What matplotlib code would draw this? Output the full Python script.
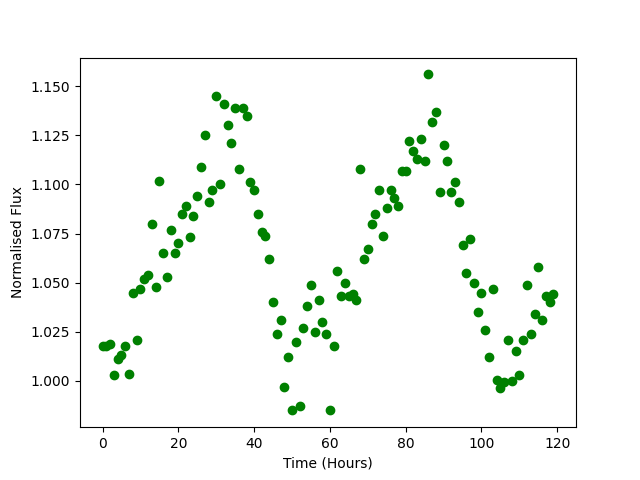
import numpy as np
import matplotlib
matplotlib.use('Agg')
import matplotlib.pyplot as plt

# tempo em horas
tempo = np.arange(0, 120)

# fluxo normalizado
fluxo = [
    1.0178, 1.018, 1.019, 1.003, 1.011, 1.013, 1.018, 1.0035, 1.045, 1.021,
    1.047, 1.052, 1.054, 1.080, 1.048, 1.102, 1.065, 1.053, 1.077, 1.065,
    1.070, 1.085, 1.089, 1.073, 1.084, 1.094, 1.109, 1.125, 1.091, 1.097,
    1.145, 1.100, 1.141, 1.130, 1.121, 1.139, 1.108, 1.139, 1.135, 1.101,
    1.097, 1.085, 1.076, 1.074, 1.062, 1.040, 1.024, 1.031, 0.997, 1.012,
    0.985, 1.020, 0.987, 1.027, 1.038, 1.049, 1.025, 1.041, 1.030, 1.024,
    0.985, 1.018, 1.056, 1.043, 1.050, 1.043, 1.044, 1.041, 1.108, 1.062,
    1.067, 1.080, 1.085, 1.097, 1.074, 1.088, 1.097, 1.093, 1.089, 1.107,
    1.107, 1.122, 1.117, 1.113, 1.123, 1.112, 1.156, 1.132, 1.137, 1.096,
    1.120, 1.112, 1.096, 1.101, 1.091, 1.069, 1.055, 1.072, 1.050, 1.035,
    1.045, 1.026, 1.012, 1.047, 1.0005, 0.9965, 0.9995, 1.021, 1.000, 1.015,
    1.003, 1.021, 1.049, 1.024, 1.034, 1.058, 1.031, 1.043, 1.040, 1.044,
]

fig = plt.figure(figsize=(6.4, 4.8), dpi=100)
plt.scatter(tempo, fluxo, color='green')
plt.xlabel('Time (Hours)')
plt.ylabel('Normalised Flux')
plt.savefig('out.png')
